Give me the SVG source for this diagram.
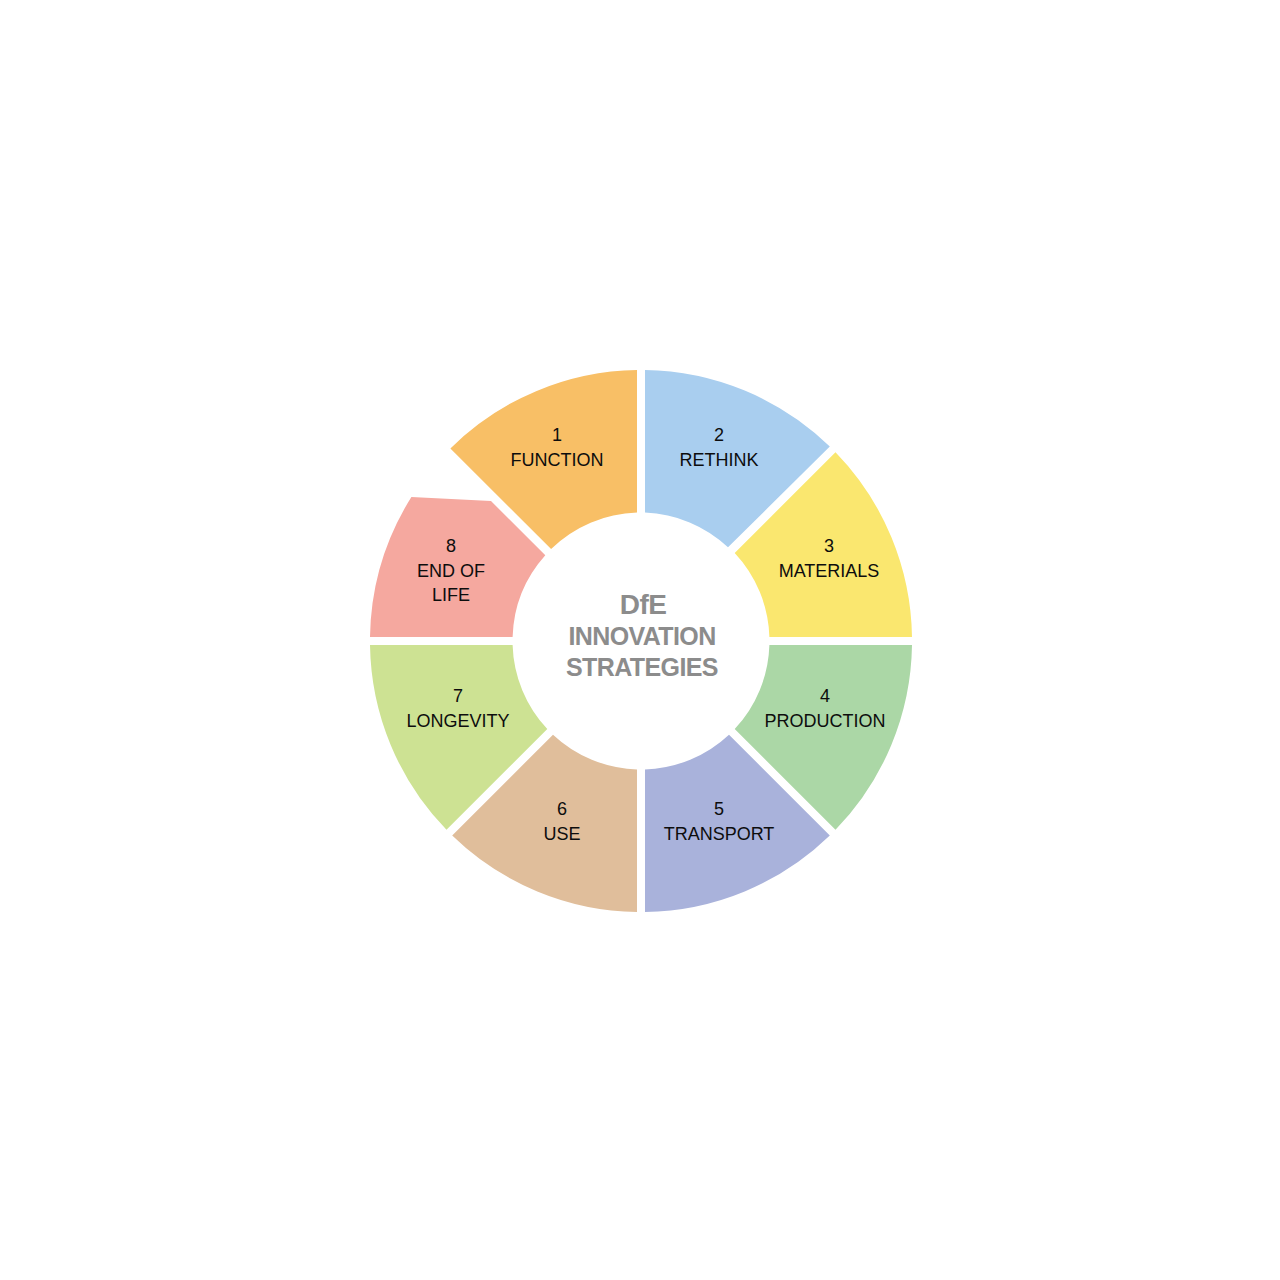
<svg xmlns="http://www.w3.org/2000/svg" width="1280" height="1280" viewBox="0 0 1280 1280">
<style>
.lbl{font-family:"Liberation Sans",Arial,Helvetica,sans-serif;font-size:18px;fill:#0d0d0d;text-anchor:middle}
.ctr{font-family:"Liberation Sans",Arial,Helvetica,sans-serif;font-weight:bold;font-size:25px;fill:#8c8c8c;text-anchor:middle;letter-spacing:-0.6px}
</style>
<rect width="1280" height="1280" fill="#ffffff"/>
<g id="seg1">
<path d="M450.4,448.4 A271,271 0 0 1 637,370 L637,512.6 A128.5,128.5 0 0 0 551.1,549.1 Z" fill="#F8BF66"/>
<text class="lbl" x="557" y="441">1</text>
<text class="lbl" x="557" y="466">FUNCTION</text>
</g>
<g id="seg2">
<path d="M645,370 A271,271 0 0 1 829.8,446.5 L728,547.3 A128.5,128.5 0 0 0 645,512.6 Z" fill="#A9CEEF"/>
<text class="lbl" x="719" y="441">2</text>
<text class="lbl" x="719" y="466">RETHINK</text>
</g>
<g id="seg3">
<path d="M835.5,452.2 A271,271 0 0 1 912,637 L769.4,637 A128.5,128.5 0 0 0 734.7,553 Z" fill="#FAE76F"/>
<text class="lbl" x="829" y="552">3</text>
<text class="lbl" x="829" y="577">MATERIALS</text>
</g>
<g id="seg4">
<path d="M912,645 A271,271 0 0 1 835.5,829.8 L734.7,729 A128.5,128.5 0 0 0 769.4,645 Z" fill="#ABD7A6"/>
<text class="lbl" x="825" y="702">4</text>
<text class="lbl" x="825" y="727">PRODUCTION</text>
</g>
<g id="seg5">
<path d="M829.8,835.5 A271,271 0 0 1 645,912 L645,769.4 A128.5,128.5 0 0 0 729,734.7 Z" fill="#A9B2DB"/>
<text class="lbl" x="719" y="815">5</text>
<text class="lbl" x="719" y="840">TRANSPORT</text>
</g>
<g id="seg6">
<path d="M637,912 A271,271 0 0 1 452.2,835.5 L553,734.7 A128.5,128.5 0 0 0 637,769.4 Z" fill="#E0BE9B"/>
<text class="lbl" x="562" y="815">6</text>
<text class="lbl" x="562" y="840">USE</text>
</g>
<g id="seg7">
<path d="M446.5,829.8 A271,271 0 0 1 370,645 L512.6,645 A128.5,128.5 0 0 0 547.3,729 Z" fill="#CDE293"/>
<text class="lbl" x="458" y="702">7</text>
<text class="lbl" x="458" y="727">LONGEVITY</text>
</g>
<g id="seg8">
<path d="M370,637 A271,271 0 0 1 411.4,497 L491,501 L545.3,555.3 A128.5,128.5 0 0 0 512.6,637 Z" fill="#F5A89F"/>
<text class="lbl" x="451" y="552">8</text>
<text class="lbl" x="451" y="577">END OF</text>
<text class="lbl" x="451" y="601">LIFE</text>
</g>
<g id="center">
<text class="ctr" x="643" y="614" style="font-size:28px">DfE</text>
<text class="ctr" x="642" y="645">INNOVATION</text>
<text class="ctr" x="642" y="676">STRATEGIES</text>
</g>
<g id="connectors"></g>
</svg>
